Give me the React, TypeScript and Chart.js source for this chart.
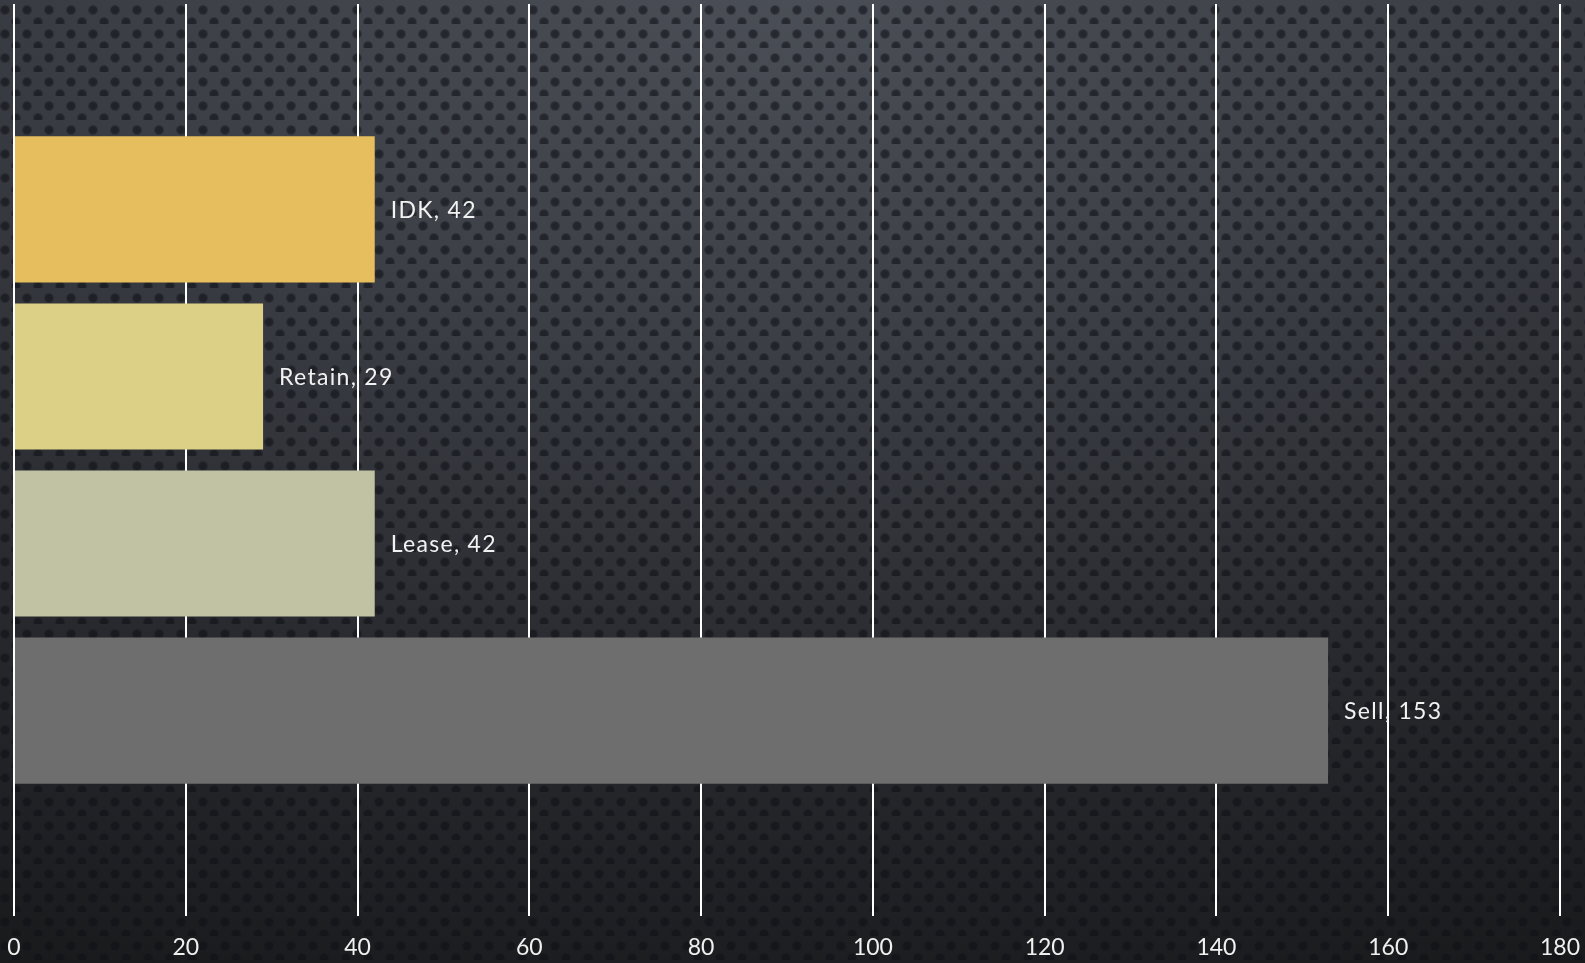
import React, { useEffect, useRef } from "react";
import { Chart, registerables } from "chart.js";

Chart.register(...registerables);

const categories: string[] = ["IDK", "Retain", "Lease", "Sell"];
const values: number[] = [42, 29, 42, 153];
const barColors: string[] = ["#E6BE5D", "#DCCF86", "#C1C2A4", "#6E6E6E"];
const xTickValues: number[] = [0, 20, 40, 60, 80, 100, 120, 140, 160, 180];

const FONT = "Lato, 'Noto Sans', sans-serif";

const barLabelPlugin = {
  id: "barLabels",
  afterDatasetsDraw(chart: any) {
    const ctx = chart.ctx;
    const meta = chart.getDatasetMeta(0);
    ctx.save();
    ctx.font = `23px ${FONT}`;
    (ctx as any).letterSpacing = "1.3px";
    ctx.fillStyle = "#f2f2f2";
    ctx.textBaseline = "middle";
    ctx.textAlign = "left";
    meta.data.forEach((bar: any, i: number) => {
      ctx.fillText(`${categories[i]}, ${values[i]}`, bar.x + 16, bar.y + 1);
    });
    ctx.restore();
  },
};

export default function App() {
  const canvasRef = useRef<HTMLCanvasElement | null>(null);

  useEffect(() => {
    document.body.style.margin = "0";
    const canvas = canvasRef.current;
    if (!canvas) return;
    const chart = new Chart(canvas, {
      type: "bar",
      data: {
        datasets: [
          {
            data: values.map((v, i) => ({ x: v, y: i })),
            backgroundColor: barColors,
            borderWidth: 0,
            barPercentage: 0.875,
            categoryPercentage: 1,
          },
        ],
      },
      options: {
        indexAxis: "y",
        responsive: false,
        animation: false,
        layout: { padding: { left: 14, right: 25, top: 4, bottom: 0 } },
        plugins: {
          legend: { display: false },
          tooltip: { enabled: false },
        },
        scales: {
          x: {
            type: "linear",
            min: 0,
            max: 180,
            afterBuildTicks: (scale: any) => {
              scale.ticks = xTickValues.map((v) => ({ value: v }));
            },
            afterFit: (scale: any) => {
              scale.height = 47;
              scale.paddingLeft = 0;
              scale.paddingRight = 0;
            },
            grid: {
              color: "#ffffff",
              lineWidth: 2,
              drawTicks: false,
            },
            border: { display: false },
            ticks: {
              color: "#f0f0f0",
              padding: 18,
              font: { family: FONT, size: 23 },
              maxRotation: 0,
            },
          },
          y: {
            type: "linear",
            reverse: true,
            offset: false,
            min: -1.23,
            max: 4.23,
            display: false,
            afterBuildTicks: (scale: any) => {
              scale.ticks = categories.map((_, i) => ({ value: i }));
            },
            grid: { display: false },
          },
        },
      } as any,
      plugins: [barLabelPlugin],
    });
    return () => chart.destroy();
  }, []);

  const bg: React.CSSProperties = {
    position: "fixed",
    left: 0,
    top: 0,
    width: "1585px",
    height: "963px",
    backgroundColor: "#2a2c31",
    backgroundImage: [
      "radial-gradient(circle at 5px 10px, rgba(14,16,22,0.62) 0px, rgba(14,16,22,0.55) 3.5px, rgba(14,16,22,0) 5.5px)",
      "radial-gradient(circle at 16px 22px, rgba(14,16,22,0.62) 0px, rgba(14,16,22,0.55) 3.5px, rgba(14,16,22,0) 5.5px)",
      "radial-gradient(ellipse 130% 110% at 50% 0%, #4a4e56 0%, #3d4047 30%, #2a2c31 62%, #18191b 100%)",
    ].join(", "),
    backgroundSize: "22px 24px, 22px 24px, 100% 100%",
  };

  return (
    <div style={bg}>
      <canvas ref={canvasRef} width={1585} height={963} style={{ display: "block" }} />
    </div>
  );
}
